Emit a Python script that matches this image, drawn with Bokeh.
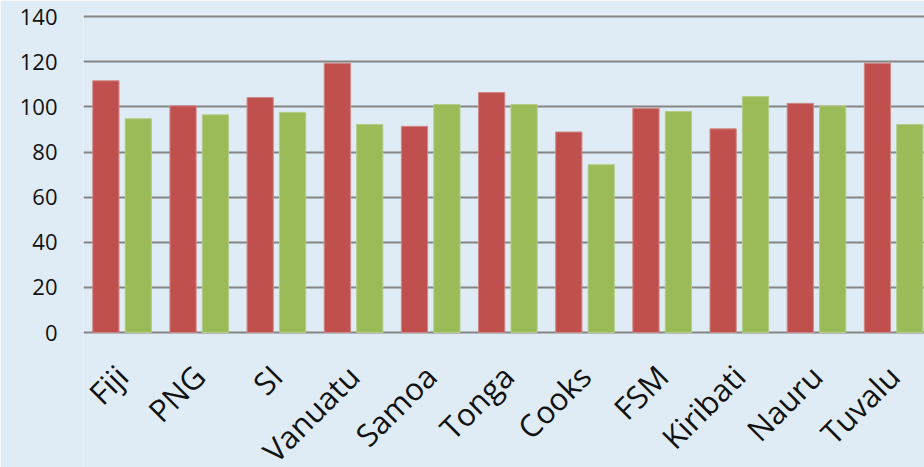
import math
from bokeh.plotting import figure
from bokeh.models import Range1d, FixedTicker, ColumnDataSource
from bokeh.embed import file_html
from bokeh.resources import INLINE

countries = ["Fiji", "PNG", "SI", "Vanuatu", "Samoa", "Tonga", "Cooks",
             "FSM", "Kiribati", "Nauru", "Tuvalu"]
series_red = [111.6, 100.5, 104.2, 119.4, 91.4, 106.4, 88.9, 99.4, 90.3, 101.6, 119.4]
series_green = [94.8, 96.5, 97.6, 92.2, 101.1, 101.1, 74.4, 98.0, 104.6, 100.5, 92.2]
y_ticks = [0, 20, 40, 60, 80, 100, 120, 140]

RED = "#C0504D"
GREEN = "#9BBB59"
BG = "#DFECF5"
GRID = "#858585"

# vertical layout in pixels: plot top, zero line, canvas bottom
TOP, ZERO, H = 14, 332, 467
Y_MAX = 141
px_per_unit = (ZERO - TOP) / Y_MAX
y_lo = -(H - ZERO) / px_per_unit      # room under zero for the rotated names

centers = [i + 0.5 for i in range(len(countries))]
offset = 0.21
bar_w = 0.34

src = ColumnDataSource(dict(
    xr=[c - offset for c in centers],
    xg=[c + offset for c in centers],
    red=series_red,
    green=series_green,
))

p = figure(width=924, height=H, output_backend="svg", toolbar_location=None,
           x_range=Range1d(0, 10.9), y_range=Range1d(y_lo, Y_MAX),
           min_border_left=83, min_border_right=0, min_border_top=TOP,
           min_border_bottom=0)

p.background_fill_color = BG
p.border_fill_color = BG
p.outline_line_color = None

p.vbar(x="xr", top="red", width=bar_w, bottom=0, source=src,
       fill_color=RED, line_color="#D08886", line_width=1)
p.vbar(x="xg", top="green", width=bar_w, bottom=0, source=src,
       fill_color=GREEN, line_color="#B5CC8A", line_width=1)

# y axis: labels only, grid lines carry the scale
p.yaxis.ticker = FixedTicker(ticks=y_ticks)
p.yaxis.axis_line_color = None
p.yaxis.major_tick_line_color = None
p.yaxis.minor_tick_line_color = None
p.yaxis.major_label_standoff = 20
p.yaxis.major_label_text_font = "Open Sans"
p.yaxis.major_label_text_font_size = "22px"
p.yaxis.major_label_text_color = "#111111"

p.ygrid.ticker = FixedTicker(ticks=y_ticks)
p.ygrid.grid_line_color = GRID
p.ygrid.grid_line_width = 2
p.xgrid.grid_line_color = None

# x axis pinned to the zero line, rotated country names below it
p.xaxis.fixed_location = 0
p.xaxis.ticker = FixedTicker(ticks=centers)
p.xaxis.major_label_overrides = {c: name for c, name in zip(centers, countries)}
p.xaxis.major_label_orientation = math.pi / 4
p.xaxis.axis_line_color = None
p.xaxis.major_tick_line_color = None
p.xaxis.minor_tick_line_color = None
p.xaxis.major_label_standoff = 32
p.xaxis.major_label_text_font = "Open Sans"
p.xaxis.major_label_text_font_size = "31px"
p.xaxis.major_label_text_color = "#111111"

open("out.html", "w").write(file_html(p, INLINE))
